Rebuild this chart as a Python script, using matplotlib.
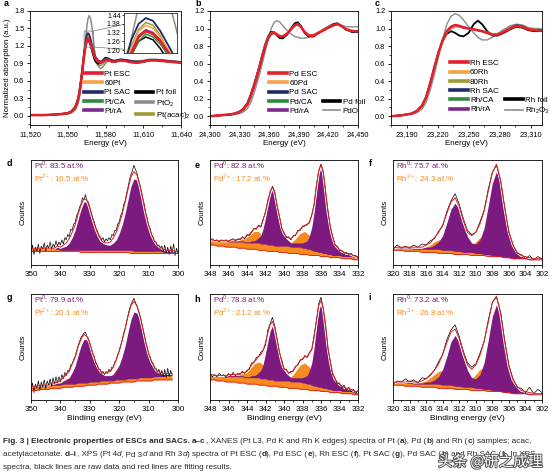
import numpy as np
import matplotlib
matplotlib.use('Agg')
import matplotlib.pyplot as plt
from matplotlib.lines import Line2D
from matplotlib.ticker import AutoMinorLocator, MultipleLocator, StrMethodFormatter
import matplotlib.patheffects as pe

plt.rcParams['font.family'] = ['Liberation Sans', 'DejaVu Sans']
plt.rcParams['mathtext.fontset'] = 'custom'
plt.rcParams['mathtext.rm'] = 'Liberation Sans'
plt.rcParams['axes.linewidth'] = 0.6

###############################################################################
# XANES data (normalized absorption)

e_pt = [11520, 11530, 11540, 11545, 11550, 11553, 11556, 11558, 11559, 11560,
        11561, 11562, 11563, 11564, 11565, 11566, 11567, 11568, 11569, 11570,
        11571, 11572, 11574, 11576, 11578, 11580, 11582, 11585, 11588, 11592,
        11596, 11600, 11605, 11610, 11615, 11620, 11625, 11630, 11635, 11640]
pt_esc = [0.01, 0.01, 0.02, 0.03, 0.04, 0.07, 0.14, 0.26, 0.36, 0.50,
          0.66, 0.85, 1.03, 1.18, 1.29, 1.33, 1.31, 1.26, 1.19, 1.11,
          1.04, 0.99, 0.93, 0.91, 0.93, 0.96, 0.96, 0.93, 0.93, 0.95,
          0.94, 0.92, 0.91, 0.93, 0.95, 0.95, 0.94, 0.93, 0.92, 0.91]
pt_60 = [0.01, 0.01, 0.02, 0.03, 0.04, 0.07, 0.14, 0.26, 0.36, 0.51,
         0.68, 0.87, 1.06, 1.22, 1.33, 1.37, 1.35, 1.29, 1.21, 1.13,
         1.05, 1.00, 0.94, 0.92, 0.94, 0.97, 0.97, 0.94, 0.94, 0.96,
         0.95, 0.93, 0.92, 0.94, 0.96, 0.96, 0.95, 0.94, 0.93, 0.92]
pt_sac = [0.01, 0.01, 0.02, 0.03, 0.04, 0.07, 0.14, 0.27, 0.37, 0.52,
          0.70, 0.90, 1.10, 1.27, 1.38, 1.42, 1.40, 1.33, 1.24, 1.15,
          1.07, 1.01, 0.95, 0.93, 0.95, 0.98, 0.98, 0.95, 0.95, 0.97,
          0.96, 0.94, 0.93, 0.94, 0.96, 0.96, 0.95, 0.94, 0.93, 0.92]
pt_ca = [0.01, 0.01, 0.02, 0.03, 0.04, 0.07, 0.14, 0.26, 0.36, 0.50,
         0.66, 0.84, 1.01, 1.16, 1.26, 1.31, 1.29, 1.24, 1.17, 1.10,
         1.03, 0.98, 0.93, 0.91, 0.93, 0.96, 0.96, 0.93, 0.93, 0.95,
         0.94, 0.92, 0.91, 0.93, 0.95, 0.95, 0.94, 0.93, 0.92, 0.91]
pt_ra = [0.01, 0.01, 0.02, 0.03, 0.04, 0.07, 0.14, 0.26, 0.36, 0.50,
         0.67, 0.86, 1.04, 1.19, 1.30, 1.34, 1.32, 1.27, 1.20, 1.12,
         1.04, 0.99, 0.93, 0.91, 0.93, 0.96, 0.96, 0.93, 0.93, 0.95,
         0.94, 0.92, 0.91, 0.93, 0.95, 0.95, 0.94, 0.93, 0.92, 0.91]
pt_foil = [0.01, 0.01, 0.02, 0.03, 0.05, 0.08, 0.16, 0.29, 0.40, 0.55,
           0.71, 0.88, 1.04, 1.17, 1.26, 1.29, 1.27, 1.21, 1.13, 1.05,
           0.98, 0.93, 0.89, 0.90, 0.96, 1.00, 0.99, 0.95, 0.93, 0.96,
           0.96, 0.93, 0.91, 0.92, 0.95, 0.96, 0.95, 0.94, 0.93, 0.92]
pt_o2 = [0.01, 0.01, 0.02, 0.02, 0.03, 0.05, 0.10, 0.20, 0.28, 0.40,
         0.56, 0.78, 1.02, 1.28, 1.50, 1.66, 1.72, 1.68, 1.56, 1.38,
         1.18, 1.02, 0.86, 0.81, 0.84, 0.90, 0.94, 0.95, 0.94, 0.95,
         0.96, 0.95, 0.94, 0.95, 0.97, 0.97, 0.96, 0.95, 0.94, 0.93]
pt_acac = [0.01, 0.01, 0.02, 0.03, 0.04, 0.06, 0.12, 0.24, 0.34, 0.48,
           0.65, 0.86, 1.06, 1.23, 1.34, 1.39, 1.37, 1.30, 1.20, 1.09,
           1.00, 0.93, 0.87, 0.86, 0.89, 0.93, 0.95, 0.94, 0.94, 0.95,
           0.95, 0.94, 0.93, 0.94, 0.96, 0.96, 0.95, 0.94, 0.93, 0.92]

e_pd = [24300, 24310, 24320, 24325, 24330, 24334, 24338, 24341, 24344, 24347,
        24350, 24353, 24356, 24359, 24362, 24365, 24368, 24371, 24374, 24378,
        24382, 24386, 24389, 24392, 24396, 24400, 24405, 24410, 24415, 24420,
        24425, 24429, 24433, 24438, 24444, 24450]
pd_esc = [0.00, 0.01, 0.02, 0.03, 0.05, 0.08, 0.14, 0.22, 0.32, 0.43,
          0.55, 0.68, 0.80, 0.89, 0.94, 0.95, 0.93, 0.91, 0.91, 0.94,
          0.99, 1.04, 1.05, 1.02, 0.96, 0.92, 0.92, 0.95, 0.98, 1.01,
          1.04, 1.05, 1.03, 0.99, 0.97, 0.97]
pd_60 = [0.00, 0.01, 0.02, 0.03, 0.05, 0.08, 0.14, 0.23, 0.33, 0.44,
         0.56, 0.69, 0.81, 0.90, 0.95, 0.96, 0.94, 0.92, 0.92, 0.95,
         1.00, 1.04, 1.05, 1.02, 0.97, 0.93, 0.93, 0.96, 0.99, 1.02,
         1.04, 1.05, 1.03, 1.00, 0.98, 0.97]
pd_sac = [0.00, 0.01, 0.02, 0.03, 0.05, 0.08, 0.13, 0.21, 0.31, 0.42,
          0.54, 0.67, 0.79, 0.89, 0.95, 0.96, 0.94, 0.91, 0.90, 0.93,
          0.99, 1.04, 1.06, 1.03, 0.96, 0.92, 0.92, 0.95, 0.98, 1.02,
          1.04, 1.05, 1.03, 0.99, 0.97, 0.96]
pd_ca = [0.00, 0.01, 0.02, 0.03, 0.05, 0.08, 0.14, 0.22, 0.32, 0.43,
         0.55, 0.68, 0.80, 0.89, 0.94, 0.95, 0.93, 0.91, 0.90, 0.93,
         0.99, 1.04, 1.05, 1.02, 0.96, 0.92, 0.92, 0.95, 0.98, 1.01,
         1.04, 1.05, 1.03, 0.99, 0.97, 0.96]
pd_ra = [0.00, 0.01, 0.02, 0.03, 0.05, 0.08, 0.14, 0.22, 0.33, 0.44,
         0.56, 0.69, 0.81, 0.89, 0.94, 0.95, 0.93, 0.91, 0.91, 0.94,
         0.99, 1.03, 1.05, 1.02, 0.96, 0.92, 0.92, 0.95, 0.98, 1.01,
         1.03, 1.05, 1.03, 0.99, 0.97, 0.97]
pd_foil = [0.00, 0.01, 0.02, 0.03, 0.05, 0.09, 0.15, 0.24, 0.34, 0.45,
           0.57, 0.70, 0.82, 0.91, 0.96, 0.96, 0.92, 0.89, 0.89, 0.93,
           1.00, 1.06, 1.07, 1.03, 0.95, 0.91, 0.91, 0.95, 0.99, 1.02,
           1.05, 1.06, 1.03, 0.99, 0.96, 0.96]
pd_o = [0.00, 0.01, 0.01, 0.02, 0.03, 0.05, 0.09, 0.15, 0.24, 0.35,
        0.47, 0.60, 0.74, 0.88, 1.00, 1.07, 1.09, 1.07, 1.03, 0.98,
        0.94, 0.91, 0.90, 0.89, 0.89, 0.90, 0.93, 0.96, 0.99, 1.02,
        1.04, 1.05, 1.04, 1.02, 1.02, 1.02]

e_rh = [23175, 23185, 23195, 23200, 23205, 23209, 23213, 23217, 23221, 23225,
        23229, 23233, 23237, 23241, 23245, 23250, 23255, 23259, 23263, 23268,
        23273, 23278, 23284, 23290, 23296, 23302, 23308, 23314, 23320]
rh_esc = [0.00, 0.01, 0.03, 0.06, 0.12, 0.22, 0.38, 0.56, 0.73, 0.87,
          0.97, 1.02, 1.04, 1.03, 1.01, 1.00, 0.99, 0.98, 0.97, 0.95,
          0.93, 0.93, 0.96, 1.00, 1.03, 1.02, 0.99, 0.98, 0.98]
rh_60 = [0.00, 0.01, 0.03, 0.06, 0.12, 0.22, 0.37, 0.55, 0.72, 0.86,
         0.96, 1.01, 1.03, 1.02, 1.01, 1.00, 0.99, 0.98, 0.97, 0.95,
         0.94, 0.94, 0.97, 1.01, 1.03, 1.02, 1.00, 0.98, 0.98]
rh_80 = [0.00, 0.01, 0.03, 0.06, 0.12, 0.21, 0.36, 0.54, 0.71, 0.85,
         0.95, 1.00, 1.02, 1.02, 1.01, 1.00, 0.99, 0.98, 0.97, 0.96,
         0.94, 0.94, 0.97, 1.00, 1.03, 1.02, 1.00, 0.99, 0.98]
rh_sac = [0.00, 0.01, 0.03, 0.06, 0.12, 0.22, 0.38, 0.56, 0.73, 0.87,
          0.97, 1.02, 1.04, 1.03, 1.01, 1.00, 0.99, 0.98, 0.97, 0.95,
          0.94, 0.94, 0.97, 1.01, 1.04, 1.03, 1.00, 0.98, 0.98]
rh_ca = [0.00, 0.01, 0.03, 0.06, 0.12, 0.22, 0.37, 0.55, 0.72, 0.86,
         0.96, 1.01, 1.03, 1.02, 1.01, 1.00, 0.99, 0.98, 0.97, 0.95,
         0.93, 0.93, 0.96, 1.00, 1.03, 1.02, 0.99, 0.98, 0.97]
rh_ra = [0.00, 0.01, 0.03, 0.06, 0.12, 0.22, 0.38, 0.56, 0.73, 0.87,
         0.97, 1.02, 1.04, 1.03, 1.02, 1.00, 0.99, 0.98, 0.97, 0.95,
         0.93, 0.93, 0.96, 1.00, 1.03, 1.02, 0.99, 0.98, 0.98]
rh_foil = [0.00, 0.01, 0.03, 0.06, 0.12, 0.22, 0.38, 0.56, 0.73, 0.86,
           0.94, 0.97, 0.95, 0.92, 0.91, 0.95, 1.05, 1.09, 1.05, 0.97,
           0.92, 0.92, 0.95, 0.99, 1.02, 1.01, 0.98, 0.97, 0.97]
rh_2o3 = [0.00, 0.01, 0.02, 0.04, 0.08, 0.16, 0.30, 0.48, 0.68, 0.88,
          1.05, 1.14, 1.17, 1.15, 1.10, 1.02, 0.95, 0.90, 0.87, 0.87,
          0.90, 0.94, 0.99, 1.03, 1.05, 1.04, 1.01, 1.00, 1.00]

###############################################################################
# XPS data (arbitrary counts, normalized); be = binding energy grids

be_pt = np.arange(350, 299.5, -1.0)        # Pt ESC components
be_pt_raw = np.arange(350, 299.9, -0.5)    # Pt ESC raw
be_pt2 = np.arange(350, 301.5, -1.0)       # Pt SAC components
be_pt2_raw = np.arange(350, 301.9, -0.5)   # Pt SAC raw
be_pd = np.arange(348, 331.9, -0.25)
be_rh = np.arange(320, 301.9, -0.5)

# Pt ESC (d)
floor_d = [0.13, 0.13, 0.13, 0.13, 0.13, 0.13, 0.13, 0.13, 0.13, 0.13,
           0.13, 0.13, 0.13, 0.13, 0.13, 0.13, 0.13, 0.12, 0.12, 0.12,
           0.12, 0.12, 0.12, 0.12, 0.12, 0.12, 0.12, 0.12, 0.12, 0.12,
           0.12, 0.12, 0.12, 0.12, 0.11, 0.11, 0.11, 0.11, 0.11, 0.11,
           0.11, 0.11, 0.11, 0.11, 0.11, 0.11, 0.11, 0.11, 0.11, 0.11, 0.11]
bg_d = [0.15, 0.15, 0.15, 0.15, 0.15, 0.15, 0.15, 0.15, 0.15, 0.15,
        0.14, 0.14, 0.14, 0.14, 0.14, 0.14, 0.14, 0.14, 0.14, 0.14,
        0.14, 0.14, 0.14, 0.14, 0.14, 0.14, 0.14, 0.14, 0.14, 0.14,
        0.14, 0.14, 0.14, 0.14, 0.14, 0.13, 0.13, 0.13, 0.13, 0.13,
        0.13, 0.13, 0.13, 0.13, 0.13, 0.12, 0.12, 0.12, 0.12, 0.12, 0.12]
met_d = [0.01, 0.01, 0.01, 0.01, 0.01, 0.01, 0.01, 0.01, 0.01, 0.02,
         0.02, 0.03, 0.04, 0.07, 0.12, 0.19, 0.29, 0.39, 0.46, 0.46,
         0.39, 0.29, 0.20, 0.13, 0.08, 0.06, 0.05, 0.05, 0.07, 0.10,
         0.16, 0.24, 0.35, 0.48, 0.61, 0.69, 0.68, 0.60, 0.48, 0.35,
         0.24, 0.15, 0.09, 0.06, 0.04, 0.03, 0.02, 0.02, 0.02, 0.01, 0.01]
ox_d = [0.00, 0.00, 0.00, 0.00, 0.00, 0.00, 0.00, 0.00, 0.00, 0.01,
        0.01, 0.02, 0.03, 0.04, 0.05, 0.05, 0.05, 0.04, 0.03, 0.02,
        0.01, 0.01, 0.01, 0.01, 0.01, 0.01, 0.02, 0.03, 0.05, 0.07,
        0.09, 0.10, 0.11, 0.10, 0.09, 0.07, 0.05, 0.03, 0.02, 0.01,
        0.01, 0.01, 0.01, 0.00, 0.00, 0.00, 0.00, 0.00, 0.00, 0.00, 0.00]
raw_d = [0.12, 0.19, 0.10, 0.17, 0.13, 0.20, 0.11, 0.18, 0.15, 0.21, 0.13,
         0.19, 0.16, 0.22, 0.15, 0.20, 0.17, 0.23, 0.18, 0.22, 0.19,
         0.24, 0.20, 0.26, 0.24, 0.29, 0.27, 0.34, 0.33, 0.39, 0.40,
         0.47, 0.50, 0.55, 0.58, 0.64, 0.62, 0.67, 0.61, 0.60, 0.55,
         0.50, 0.45, 0.41, 0.36, 0.33, 0.29, 0.27, 0.24, 0.26, 0.22,
         0.25, 0.23, 0.26, 0.24, 0.29, 0.28, 0.33, 0.33, 0.39, 0.41,
         0.47, 0.50, 0.57, 0.61, 0.68, 0.74, 0.81, 0.86, 0.90, 0.95,
         0.91, 0.88, 0.82, 0.77, 0.71, 0.64, 0.58, 0.50, 0.45, 0.38,
         0.35, 0.29, 0.27, 0.22, 0.22, 0.18, 0.19, 0.16, 0.18, 0.13,
         0.19, 0.11, 0.17, 0.10, 0.18, 0.12, 0.20, 0.09, 0.16, 0.11]

# Pt SAC (g)
floor_g = [0.09, 0.09, 0.09, 0.10, 0.10, 0.10, 0.10, 0.11, 0.11, 0.11,
           0.11, 0.12, 0.12, 0.12, 0.12, 0.13, 0.13, 0.13, 0.13, 0.14,
           0.14, 0.14, 0.14, 0.15, 0.15, 0.15, 0.15, 0.16, 0.16, 0.16,
           0.16, 0.17, 0.17, 0.17, 0.17, 0.17, 0.18, 0.18, 0.18, 0.18,
           0.18, 0.18, 0.19, 0.19, 0.19, 0.19, 0.19, 0.19, 0.19]
bg_g = [0.12, 0.12, 0.12, 0.13, 0.13, 0.13, 0.13, 0.14, 0.14, 0.14,
        0.14, 0.15, 0.15, 0.15, 0.15, 0.15, 0.16, 0.16, 0.16, 0.16,
        0.17, 0.17, 0.17, 0.17, 0.18, 0.18, 0.18, 0.18, 0.18, 0.19,
        0.19, 0.19, 0.19, 0.20, 0.20, 0.20, 0.20, 0.21, 0.21, 0.21,
        0.21, 0.21, 0.22, 0.22, 0.22, 0.22, 0.23, 0.23, 0.23]
met_g = [0.01, 0.01, 0.01, 0.01, 0.01, 0.01, 0.01, 0.01, 0.01, 0.02,
         0.02, 0.03, 0.04, 0.06, 0.11, 0.17, 0.26, 0.35, 0.41, 0.41,
         0.35, 0.26, 0.18, 0.12, 0.07, 0.05, 0.05, 0.05, 0.06, 0.09,
         0.14, 0.22, 0.32, 0.44, 0.56, 0.63, 0.62, 0.55, 0.44, 0.32,
         0.22, 0.14, 0.08, 0.05, 0.04, 0.03, 0.02, 0.02, 0.02]
ox_g = [0.00, 0.00, 0.00, 0.00, 0.00, 0.00, 0.00, 0.01, 0.01, 0.01,
        0.02, 0.03, 0.05, 0.06, 0.08, 0.08, 0.08, 0.06, 0.05, 0.03,
        0.02, 0.01, 0.01, 0.01, 0.01, 0.02, 0.03, 0.04, 0.07, 0.10,
        0.13, 0.15, 0.16, 0.15, 0.13, 0.10, 0.07, 0.04, 0.03, 0.02,
        0.01, 0.01, 0.01, 0.00, 0.00, 0.00, 0.00, 0.00, 0.00]
raw_g = [0.10, 0.16, 0.07, 0.15, 0.11, 0.18, 0.09, 0.17, 0.12, 0.19, 0.11,
         0.18, 0.14, 0.20, 0.13, 0.21, 0.15, 0.22, 0.16, 0.22, 0.17,
         0.24, 0.20, 0.26, 0.23, 0.28, 0.27, 0.33, 0.34, 0.38, 0.41,
         0.46, 0.51, 0.55, 0.59, 0.61, 0.63, 0.64, 0.60, 0.58, 0.53,
         0.49, 0.44, 0.41, 0.35, 0.33, 0.29, 0.29, 0.25, 0.27, 0.24,
         0.27, 0.25, 0.29, 0.27, 0.31, 0.31, 0.36, 0.38, 0.43, 0.46,
         0.52, 0.56, 0.63, 0.67, 0.74, 0.80, 0.86, 0.90, 0.93, 0.96,
         0.92, 0.89, 0.85, 0.80, 0.75, 0.68, 0.62, 0.55, 0.50, 0.44,
         0.41, 0.36, 0.35, 0.30, 0.30, 0.26, 0.29, 0.24, 0.28, 0.22,
         0.29, 0.21, 0.30, 0.22, 0.28, 0.24]

# Pd (e: ESC, h: SAC), shared background
floor_pd = [0.19, 0.19, 0.19, 0.18, 0.18, 0.18, 0.18, 0.17,
            0.17, 0.17, 0.17, 0.17, 0.16, 0.16, 0.16, 0.16,
            0.15, 0.15, 0.15, 0.15, 0.15, 0.14, 0.14, 0.14,
            0.14, 0.13, 0.13, 0.13, 0.13, 0.13, 0.12, 0.12,
            0.12, 0.12, 0.11, 0.11, 0.11, 0.11, 0.11, 0.10,
            0.10, 0.10, 0.10, 0.09, 0.09, 0.09, 0.09, 0.09,
            0.08, 0.08, 0.08, 0.08, 0.07, 0.07, 0.07, 0.07,
            0.07, 0.06, 0.06, 0.06, 0.06, 0.06, 0.05, 0.05, 0.05]
bg_pd = [0.24, 0.24, 0.23, 0.23, 0.23, 0.23, 0.23, 0.23,
         0.22, 0.22, 0.22, 0.22, 0.22, 0.22, 0.22, 0.21,
         0.21, 0.21, 0.21, 0.21, 0.21, 0.21, 0.20, 0.20,
         0.20, 0.19, 0.19, 0.19, 0.18, 0.18, 0.18, 0.18,
         0.18, 0.18, 0.18, 0.17, 0.17, 0.17, 0.17, 0.17,
         0.16, 0.16, 0.15, 0.15, 0.14, 0.13, 0.13, 0.12,
         0.12, 0.11, 0.11, 0.10, 0.10, 0.09, 0.09, 0.09,
         0.09, 0.08, 0.08, 0.08, 0.08, 0.08, 0.07, 0.07, 0.07]
met_e = [0.00, 0.00, 0.00, 0.00, 0.00, 0.00, 0.00, 0.00,
         0.01, 0.01, 0.01, 0.01, 0.01, 0.01, 0.01, 0.01,
         0.01, 0.01, 0.02, 0.02, 0.03, 0.05, 0.08, 0.15,
         0.25, 0.37, 0.48, 0.53, 0.49, 0.38, 0.27, 0.17,
         0.11, 0.07, 0.05, 0.04, 0.04, 0.04, 0.04, 0.04,
         0.05, 0.06, 0.08, 0.13, 0.22, 0.37, 0.56, 0.74,
         0.81, 0.75, 0.58, 0.40, 0.26, 0.17, 0.11, 0.08,
         0.06, 0.05, 0.04, 0.03, 0.03, 0.02, 0.02, 0.01, 0.01]
ox_e = [0.00, 0.00, 0.00, 0.00, 0.00, 0.00, 0.00, 0.00,
        0.00, 0.01, 0.01, 0.01, 0.01, 0.02, 0.03, 0.04,
        0.06, 0.07, 0.09, 0.11, 0.11, 0.11, 0.09, 0.08,
        0.06, 0.04, 0.03, 0.02, 0.02, 0.01, 0.01, 0.01,
        0.01, 0.02, 0.03, 0.04, 0.06, 0.08, 0.11, 0.13,
        0.15, 0.16, 0.15, 0.13, 0.11, 0.08, 0.06, 0.04,
        0.03, 0.02, 0.01, 0.01, 0.01, 0.01, 0.00, 0.00,
        0.00, 0.00, 0.00, 0.00, 0.00, 0.00, 0.00, 0.00, 0.00]
raw_e = [0.24, 0.25, 0.23, 0.24, 0.22, 0.24, 0.23, 0.24,
         0.22, 0.24, 0.25, 0.23, 0.25, 0.24, 0.27, 0.25,
         0.29, 0.28, 0.31, 0.35, 0.34, 0.38, 0.36, 0.44,
         0.50, 0.62, 0.69, 0.75, 0.70, 0.56, 0.47, 0.35,
         0.31, 0.26, 0.27, 0.24, 0.28, 0.28, 0.33, 0.33,
         0.37, 0.37, 0.39, 0.40, 0.48, 0.57, 0.76, 0.89,
         0.96, 0.89, 0.69, 0.52, 0.36, 0.28, 0.19, 0.18,
         0.14, 0.14, 0.11, 0.12, 0.10, 0.11, 0.09, 0.09, 0.07]
met_h = [0.00, 0.00, 0.00, 0.00, 0.00, 0.00, 0.00, 0.00,
         0.01, 0.01, 0.01, 0.01, 0.01, 0.01, 0.01, 0.01,
         0.01, 0.01, 0.02, 0.02, 0.03, 0.05, 0.08, 0.14,
         0.24, 0.36, 0.46, 0.51, 0.47, 0.37, 0.26, 0.16,
         0.10, 0.07, 0.05, 0.04, 0.04, 0.04, 0.04, 0.04,
         0.05, 0.06, 0.08, 0.13, 0.21, 0.36, 0.55, 0.72,
         0.79, 0.73, 0.57, 0.39, 0.25, 0.16, 0.11, 0.08,
         0.06, 0.05, 0.04, 0.03, 0.03, 0.02, 0.02, 0.01, 0.01]
ox_h = [0.00, 0.00, 0.00, 0.00, 0.00, 0.00, 0.00, 0.00,
        0.01, 0.01, 0.01, 0.01, 0.01, 0.02, 0.03, 0.04,
        0.05, 0.08, 0.10, 0.13, 0.14, 0.15, 0.15, 0.13,
        0.10, 0.08, 0.06, 0.04, 0.03, 0.02, 0.02, 0.02,
        0.02, 0.03, 0.03, 0.05, 0.07, 0.10, 0.13, 0.16,
        0.18, 0.19, 0.18, 0.16, 0.13, 0.10, 0.07, 0.05,
        0.03, 0.02, 0.01, 0.01, 0.01, 0.01, 0.00, 0.00,
        0.00, 0.00, 0.00, 0.00, 0.00, 0.00, 0.00, 0.00, 0.00]
raw_h = [0.25, 0.22, 0.24, 0.22, 0.25, 0.23, 0.24, 0.21,
         0.25, 0.23, 0.26, 0.23, 0.25, 0.24, 0.27, 0.25,
         0.28, 0.29, 0.35, 0.35, 0.40, 0.41, 0.45, 0.47,
         0.52, 0.66, 0.72, 0.78, 0.70, 0.58, 0.45, 0.38,
         0.29, 0.29, 0.25, 0.27, 0.27, 0.32, 0.33, 0.38,
         0.38, 0.42, 0.40, 0.45, 0.47, 0.61, 0.74, 0.91,
         0.97, 0.86, 0.71, 0.48, 0.37, 0.24, 0.21, 0.15,
         0.16, 0.11, 0.14, 0.09, 0.12, 0.08, 0.10, 0.06, 0.09]

# Rh (f: ESC, i: SAC), shared background
floor_rh = [0.14, 0.14, 0.14, 0.13, 0.13, 0.13, 0.13, 0.12,
            0.12, 0.12, 0.12, 0.11, 0.11, 0.11, 0.11, 0.10,
            0.10, 0.10, 0.10, 0.09, 0.09, 0.09, 0.09, 0.08,
            0.08, 0.08, 0.08, 0.07, 0.07, 0.06, 0.06, 0.06,
            0.06, 0.05, 0.05, 0.05, 0.05]
bg_rh = [0.16, 0.16, 0.16, 0.16, 0.16, 0.15, 0.15, 0.15,
         0.15, 0.15, 0.15, 0.15, 0.14, 0.14, 0.14, 0.13,
         0.13, 0.12, 0.12, 0.12, 0.11, 0.11, 0.10, 0.10,
         0.09, 0.08, 0.08, 0.07, 0.07, 0.06, 0.06, 0.06,
         0.06, 0.05, 0.05, 0.05, 0.05]
met_f = [0.00, 0.01, 0.01, 0.01, 0.01, 0.01, 0.01, 0.01,
         0.02, 0.02, 0.04, 0.07, 0.14, 0.26, 0.39, 0.46,
         0.40, 0.27, 0.15, 0.09, 0.09, 0.13, 0.25, 0.46,
         0.69, 0.81, 0.69, 0.45, 0.24, 0.12, 0.06, 0.03,
         0.02, 0.02, 0.01, 0.01, 0.01]
ox_f = [0.00, 0.00, 0.00, 0.00, 0.00, 0.01, 0.01, 0.01,
        0.02, 0.04, 0.07, 0.09, 0.10, 0.09, 0.07, 0.05,
        0.03, 0.03, 0.04, 0.07, 0.11, 0.15, 0.16, 0.14,
        0.10, 0.07, 0.04, 0.02, 0.01, 0.01, 0.00, 0.00,
        0.00, 0.00, 0.00, 0.00, 0.00]
raw_f = [0.15, 0.19, 0.16, 0.18, 0.16, 0.19, 0.17, 0.20,
         0.19, 0.23, 0.25, 0.32, 0.37, 0.51, 0.61, 0.68,
         0.58, 0.44, 0.33, 0.29, 0.31, 0.41, 0.52, 0.72,
         0.88, 0.95, 0.80, 0.55, 0.31, 0.19, 0.11, 0.10,
         0.06, 0.09, 0.05, 0.08, 0.06]
met_i = [0.00, 0.01, 0.01, 0.01, 0.01, 0.01, 0.01, 0.01,
         0.02, 0.02, 0.04, 0.07, 0.15, 0.27, 0.41, 0.48,
         0.41, 0.28, 0.16, 0.09, 0.09, 0.13, 0.25, 0.46,
         0.70, 0.82, 0.70, 0.46, 0.24, 0.12, 0.06, 0.03,
         0.02, 0.02, 0.01, 0.01, 0.01]
ox_i = [0.00, 0.00, 0.00, 0.00, 0.01, 0.01, 0.01, 0.02,
        0.03, 0.06, 0.09, 0.12, 0.14, 0.13, 0.09, 0.06,
        0.04, 0.04, 0.05, 0.08, 0.13, 0.18, 0.20, 0.17,
        0.13, 0.08, 0.04, 0.02, 0.01, 0.01, 0.01, 0.00,
        0.00, 0.00, 0.00, 0.00, 0.00]
raw_i = [0.15, 0.18, 0.17, 0.20, 0.17, 0.19, 0.16, 0.21,
         0.20, 0.24, 0.28, 0.36, 0.43, 0.57, 0.66, 0.71,
         0.60, 0.46, 0.35, 0.31, 0.34, 0.44, 0.55, 0.75,
         0.92, 0.97, 0.83, 0.56, 0.33, 0.20, 0.12, 0.11,
         0.07, 0.12, 0.06, 0.10, 0.07]

###############################################################################
# colors

c_red = '#e3202a'
c_orange = '#f4a244'
c_navy = '#1c2a6c'
c_green = '#2f8a3b'
c_purple = '#7b2a8c'
c_grey = '#8c8c8c'
c_olive = '#9c9a30'
x_purple = '#7d1a7f'
x_orange = '#f68c1f'
x_red = '#e41a1c'

###############################################################################
# figure

fig = plt.figure(figsize=(5.52, 4.76), dpi=100)
W, H = 552.0, 476.0


def box(l, t, r, b):
    return [l / W, 1 - b / H, (r - l) / W, (b - t) / H]


def style(ax, size):
    ax.tick_params(which='major', length=2.5, width=0.6, labelsize=size, pad=1.5)
    ax.tick_params(which='minor', length=1.5, width=0.5)
    ax.xaxis.set_minor_locator(AutoMinorLocator(2))


def xanes(ax, e, curves, xlim, ylim, xt, yt):
    for y, c, lw in curves:
        ax.plot(e, y, color=c, lw=lw)
    ax.set_xlim(*xlim)
    ax.set_ylim(*ylim)
    ax.set_xticks(xt)
    ax.set_yticks(yt)
    ax.xaxis.set_major_formatter(StrMethodFormatter('{x:,.0f}'))
    ax.yaxis.set_major_formatter(StrMethodFormatter('{x:.1f}'))
    style(ax, 5.3)
    ax.yaxis.set_minor_locator(AutoMinorLocator(2))
    ax.set_xlabel('Energy (eV)', fontsize=5.8, labelpad=2)


def xanes_legend(ax, left, right, nrows, anchor, colsp):
    hl = [Line2D([], [], color=c, lw=lw) for _, c, lw in left]
    ll = [s for s, _, _ in left]
    nblank = nrows - len(right)
    hr = [Line2D([], [], color='none') for _ in range(nblank)]
    lr = [' '] * nblank
    hr += [Line2D([], [], color=c, lw=lw) for _, c, lw in right]
    lr += [s for s, _, _ in right]
    ax.legend(hl + hr, ll + lr, ncol=2, loc='upper left', bbox_to_anchor=anchor,
              frameon=False, fontsize=5.8, handlelength=2.2, handletextpad=0.3,
              labelspacing=0.2, columnspacing=colsp, borderpad=0, borderaxespad=0)


# ---- a: Pt XANES
ax_a = fig.add_axes(box(30, 11, 181, 125))
curves_a = [(pt_o2, c_grey, 1.1), (pt_acac, c_olive, 1.1), (pt_foil, 'black', 1.1),
            (pt_ca, c_green, 1.1), (pt_ra, c_purple, 1.1), (pt_60, c_orange, 1.1),
            (pt_sac, c_navy, 1.3), (pt_esc, c_red, 1.8)]
xanes(ax_a, e_pt, curves_a, (11520, 11640), (-0.16, 1.8),
      [11520, 11550, 11580, 11610, 11640], [0.0, 0.3, 0.6, 0.9, 1.2, 1.5, 1.8])
ax_a.set_ylabel('Normalized absorption (a.u.)', fontsize=5.6, labelpad=2)
xanes_legend(ax_a,
             [('Pt ESC', c_red, 2.6), ('60Pt', c_orange, 2.6), ('Pt SAC', c_navy, 2.6),
              ('Pt/CA', c_green, 2.6), ('Pt/rA', c_purple, 2.6)],
             [('Pt foil', 'black', 2.6), (r'PtO$_2$', c_grey, 2.6),
              (r'Pt(acac)$_2$', c_olive, 2.6)], 5, (0.36, 0.48), 0.6)

axins = ax_a.inset_axes([0.623, 0.632, 0.351, 0.351])
for y, c, lw in curves_a:
    axins.plot(e_pt, y, color=c, lw=lw)
axins.set_xlim(11563, 11570.3)
axins.set_ylim(1.18, 1.455)
axins.set_xticks([])
axins.set_yticks([1.20, 1.26, 1.32, 1.38, 1.44])
axins.yaxis.set_major_formatter(StrMethodFormatter('{x:.2f}'))
axins.tick_params(length=1.5, width=0.5, labelsize=5.0, pad=1)
for s in axins.spines.values():
    s.set_linewidth(0.5)
ax_a.indicate_inset_zoom(axins, edgecolor='#777777', linewidth=0.5, alpha=1)

# ---- b: Pd XANES
ax_b = fig.add_axes(box(210, 11, 358, 125))
curves_b = [(pd_o, c_grey, 1.0), (pd_foil, 'black', 1.4), (pd_ca, c_green, 1.1),
            (pd_ra, c_purple, 1.1), (pd_sac, c_navy, 1.1), (pd_60, c_orange, 1.1),
            (pd_esc, c_red, 1.8)]
xanes(ax_b, e_pd, curves_b, (24300, 24450), (-0.1, 1.2),
      [24300, 24330, 24360, 24390, 24420, 24450], [0.0, 0.2, 0.4, 0.6, 0.8, 1.0, 1.2])
xanes_legend(ax_b,
             [('Pd ESC', c_red, 2.6), ('60Pd', c_orange, 2.6), ('Pd SAC', c_navy, 2.6),
              ('Pd/CA', c_green, 2.6), ('Pd/rA', c_purple, 2.6)],
             [('Pd foil', 'black', 2.6), ('PdO', c_grey, 1.2)], 5, (0.40, 0.48), 0.6)

# ---- c: Rh XANES
ax_c = fig.add_axes(box(391, 11, 542, 125))
curves_c = [(rh_2o3, c_grey, 1.0), (rh_foil, 'black', 1.3), (rh_80, c_olive, 1.1),
            (rh_ca, c_green, 1.1), (rh_ra, c_purple, 1.1), (rh_sac, c_navy, 1.1),
            (rh_60, c_orange, 1.1), (rh_esc, c_red, 1.8)]
xanes(ax_c, e_rh, curves_c, (23175, 23321), (-0.1, 1.2),
      [23190, 23220, 23250, 23280, 23310], [0.0, 0.2, 0.4, 0.6, 0.8, 1.0, 1.2])
xanes_legend(ax_c,
             [('Rh ESC', c_red, 2.6), ('60Rh', c_orange, 2.6), ('80Rh', c_olive, 2.6),
              ('Rh SAC', c_navy, 2.6), ('Rh/CA', c_green, 2.6), ('Rh/rA', c_purple, 2.6)],
             [('Rh foil', 'black', 2.6), (r'Rh$_2$O$_3$', c_grey, 1.2)], 6,
             (0.39, 0.575), 0.8)


# ---- XPS panels
def xps(ax, be, floor, bg, met, ox, be_raw, raw, xlim, major, t0, t1, xlabel):
    be = np.asarray(be)
    floor, bg, met, ox = (np.asarray(v) for v in (floor, bg, met, ox))
    env = bg + met + ox
    ax.fill_between(be, floor, bg + ox, color=x_orange, lw=0)
    ax.fill_between(be, bg, bg + met, color=x_purple, lw=0)
    ax.plot(be, env, color='white', lw=2.0)
    ax.plot(be_raw, raw, color='black', lw=0.5)
    ax.plot(be, env, color=x_red, lw=0.7)
    ax.plot(be, floor, color=x_red, lw=0.6)
    ax.set_xlim(*xlim)
    ax.set_ylim(0, 1)
    ax.set_yticks([])
    ax.xaxis.set_major_locator(MultipleLocator(major))
    style(ax, 5.8)
    ax.set_ylabel('Counts', fontsize=5.8, labelpad=3)
    ax.text(0.02, 0.95, t0, transform=ax.transAxes, fontsize=5.7, color=x_purple,
            va='center', ha='left')
    ax.text(0.02, 0.83, t1, transform=ax.transAxes, fontsize=5.7, color=x_orange,
            va='center', ha='left')
    if xlabel:
        ax.set_xlabel('Binding energy (eV)', fontsize=6, labelpad=2)


ax_d = fig.add_axes(box(31, 160, 178, 265))
xps(ax_d, be_pt, floor_d, bg_d, met_d, ox_d, be_pt_raw, raw_d, (350, 300), 10,
    r'Pt$^{0}$: 83.5 at.%', r'Pt$^{2+}$: 16.5 at.%', False)
ax_e = fig.add_axes(box(210, 160, 358, 265))
xps(ax_e, be_pd, floor_pd, bg_pd, met_e, ox_e, be_pd, raw_e, (348, 332), 2,
    r'Pd$^{0}$: 82.8 at.%', r'Pd$^{2+}$: 17.2 at.%', False)
ax_f = fig.add_axes(box(393, 160, 542, 265))
xps(ax_f, be_rh, floor_rh, bg_rh, met_f, ox_f, be_rh, raw_f, (320, 302), 2,
    r'Rh$^{0}$: 75.7 at.%', r'Rh$^{3+}$: 24.3 at.%', False)
ax_g = fig.add_axes(box(31, 294, 178, 400))
xps(ax_g, be_pt2, floor_g, bg_g, met_g, ox_g, be_pt2_raw, raw_g, (350, 300), 10,
    r'Pt$^{0}$: 79.9 at.%', r'Pt$^{2+}$: 20.1 at.%', True)
ax_h = fig.add_axes(box(210, 294, 358, 400))
xps(ax_h, be_pd, floor_pd, bg_pd, met_h, ox_h, be_pd, raw_h, (348, 332), 2,
    r'Pd$^{0}$: 78.8 at.%', r'Pd$^{2+}$: 21.2 at.%', True)
ax_i = fig.add_axes(box(393, 294, 542, 400))
xps(ax_i, be_rh, floor_rh, bg_rh, met_i, ox_i, be_rh, raw_i, (320, 302), 2,
    r'Rh$^{0}$: 73.2 at.%', r'Rh$^{3+}$: 26.8 at.%', True)

# panel letters
for s, x, y in [('a', 4, 4), ('b', 195, 4), ('c', 375, 4),
                ('d', 7, 164), ('e', 195, 165), ('f', 369, 164),
                ('g', 7, 298), ('h', 194, 299), ('i', 368, 298)]:
    fig.text(x / W, 1 - y / H, s, fontsize=6.5, fontweight='bold', va='center', ha='left')

# caption
renderer = fig.canvas.get_renderer()


def rich_line(x, y, runs, size=5.9):
    x = x / W
    for s, w, st in runs:
        t = fig.text(x, 1 - y / H, s, fontsize=size, fontweight=w, fontstyle=st,
                     color='#2a2a2a', va='baseline', ha='left')
        x += t.get_window_extent(renderer=renderer).width / fig.bbox.width


N, B, I = ('normal', 'normal'), ('bold', 'normal'), ('normal', 'italic')
line1 = [('Fig. 3 | Electronic properties of ESCs and SACs.', B), (' ', N), ('a\u2013c', B),
         (', XANES (Pt L3, Pd K and Rh K edges) spectra of Pt (', N), ('a', B), ('), Pd (', N),
         ('b', B), (') and Rh (', N), ('c', B), (') samples; acac,', N)]
line2 = [('acetylacetonate. ', N), ('d\u2013i', B), (', XPS (Pt 4', N), ('d', I), (', Pd 3', N),
         ('d', I), (' and Rh 3', N), ('d', I), (') spectra of Pt ESC (', N), ('d', B),
         ('), Pd ESC (', N), ('e', B), ('), Rh ESC (', N), ('f', B), ('), Pt SAC (', N),
         ('g', B), ('), Pd SAC (', N), ('h', B), (') and Rh SAC (', N), ('i', B),
         ('). In XPS', N)]
line3 = [('spectra, black lines are raw data and red lines are fitting results.', N)]
rich_line(3, 443, [(s, w, st) for s, (w, st) in line1])
rich_line(3, 456, [(s, w, st) for s, (w, st) in line2])
rich_line(3, 469, [(s, w, st) for s, (w, st) in line3])

# watermark (overlays the caption, as in the source image)
fig.text(438 / W, 1 - 462 / H, '头条 @研之成理', fontsize=10.5, color='white',
         family=['Noto Sans CJK SC', 'DejaVu Sans'], va='center', ha='left',
         path_effects=[pe.withStroke(linewidth=1.4, foreground='#555555')])

fig.savefig('out.png', dpi=100)
